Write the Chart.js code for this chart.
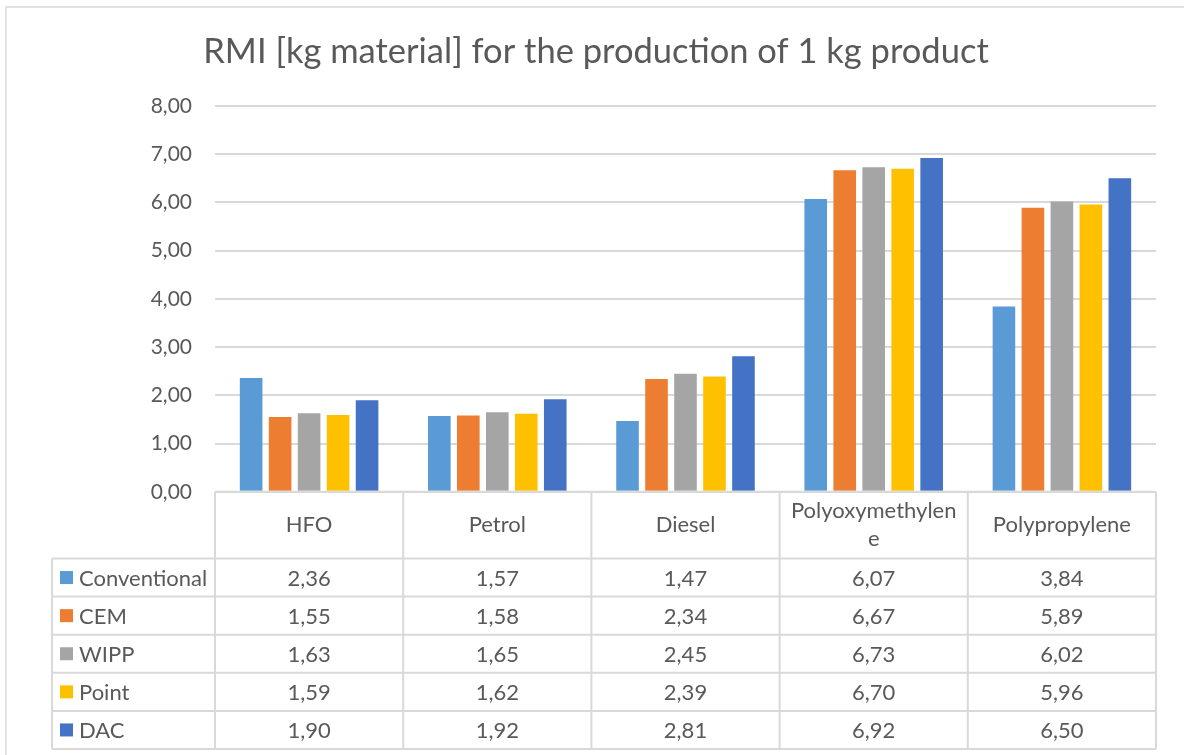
<!DOCTYPE html>
<html>
<head>
<meta charset="utf-8">
<script src="https://cdn.jsdelivr.net/npm/chart.js@4/dist/chart.umd.min.js"></script>
<style>
  html, body { margin: 0; padding: 0; background: #ffffff; }
  #wrap { width: 1184px; height: 755px; position: relative; }
</style>
</head>
<body>
<div id="wrap"><canvas id="c" width="1184" height="755"></canvas></div>
<script>
// Categories and series values (RMI, kg material per kg product)
const categories = ['HFO', 'Petrol', 'Diesel', 'Polyoxymethylene', 'Polypropylene'];
const seriesNames = ['Conventional', 'CEM', 'WIPP', 'Point', 'DAC'];
const conventional = [2.36, 1.57, 1.47, 6.07, 3.84];
const cem          = [1.55, 1.58, 2.34, 6.67, 5.89];
const wipp         = [1.63, 1.65, 2.45, 6.73, 6.02];
const point        = [1.59, 1.62, 2.39, 6.70, 5.96];
const dac          = [1.90, 1.92, 2.81, 6.92, 6.50];
const yMin = 0, yMax = 8, yStep = 1;
const titleText = 'RMI [kg material] for the production of 1 kg product';

const seriesValues = [conventional, cem, wipp, point, dac];
const seriesColors = ['#5B9BD5', '#ED7D31', '#A5A5A5', '#FFC000', '#4472C4'];

const FONT = 'Lato, "Open Sans", sans-serif';
const TEXT = '#595959';
const LINE = '#D9D9D9';

const fmt = v => v.toFixed(2).replace('.', ',');

// Data table under the plot, aligned to the category scale
const tablePlugin = {
  id: 'dataTable',
  beforeDraw(chart) {
    const ctx = chart.ctx;
    ctx.save();
    ctx.fillStyle = '#ffffff';
    ctx.fillRect(0, 0, chart.width, chart.height);
    // outer frame
    ctx.strokeStyle = LINE;
    ctx.lineWidth = 1.5;
    ctx.beginPath();
    ctx.moveTo(6, chart.height + 5);
    ctx.lineTo(6, 7);
    ctx.lineTo(chart.width + 5, 7);
    ctx.stroke();
    // title
    ctx.fillStyle = TEXT;
    ctx.font = '34.5px ' + FONT;
    ctx.textAlign = 'center';
    ctx.textBaseline = 'alphabetic';
    ctx.fillText(titleText, 596, 63);
    ctx.restore();
  },
  afterDraw(chart) {
    const ctx = chart.ctx;
    const area = chart.chartArea;
    const xs = chart.scales.x;
    const n = categories.length;
    const colW = (area.right - area.left) / n;
    const headTop = area.bottom;
    const headH = 66.7;
    const rowH = 38.1;
    const bodyTop = headTop + headH;
    const bodyBottom = bodyTop + rowH * seriesNames.length;
    const leftX = 52;

    ctx.save();
    ctx.strokeStyle = LINE;
    ctx.lineWidth = 2;
    ctx.beginPath();
    // header top
    ctx.moveTo(area.left, headTop); ctx.lineTo(area.right, headTop);
    // row lines
    for (let r = 0; r <= seriesNames.length; r++) {
      const y = bodyTop + r * rowH;
      ctx.moveTo(leftX, y); ctx.lineTo(area.right, y);
    }
    // vertical lines
    ctx.moveTo(leftX, bodyTop); ctx.lineTo(leftX, bodyBottom);
    for (let i = 0; i <= n; i++) {
      const x = area.left + i * colW;
      ctx.moveTo(x, headTop); ctx.lineTo(x, bodyBottom);
    }
    ctx.stroke();

    ctx.fillStyle = TEXT;
    ctx.font = '22px ' + FONT;
    ctx.textAlign = 'center';
    ctx.textBaseline = 'middle';
    // header labels, wrapped by character when too wide
    categories.forEach((cat, i) => {
      const cx = xs.getPixelForValue(i);
      const maxW = colW - 16;
      const lines = [];
      let cur = '';
      for (const ch of cat) {
        if (ctx.measureText(cur + ch).width > maxW && cur) { lines.push(cur); cur = ch; }
        else cur += ch;
      }
      lines.push(cur);
      const lh = 28;
      const cy = headTop + headH / 2 - (lines.length - 1) * lh / 2;
      lines.forEach((l, k) => ctx.fillText(l, cx, cy + k * lh));
    });
    // series rows
    seriesNames.forEach((name, r) => {
      const cy = bodyTop + r * rowH + rowH / 2;
      ctx.fillStyle = seriesColors[r];
      ctx.fillRect(leftX + 8, cy - 6.5, 13, 13);
      ctx.fillStyle = TEXT;
      ctx.textAlign = 'left';
      ctx.fillText(name, leftX + 27, cy + 1);
      ctx.textAlign = 'center';
      seriesValues[r].forEach((v, i) => {
        ctx.fillText(fmt(v), xs.getPixelForValue(i), cy + 1);
      });
    });
    ctx.restore();
  }
};

new Chart(document.getElementById('c'), {
  type: 'bar',
  data: {
    labels: categories,
    datasets: seriesNames.map((name, k) => ({
      label: name,
      data: seriesValues[k],
      backgroundColor: seriesColors[k],
      borderWidth: 0,
      categoryPercentage: 0.77,
      barPercentage: 0.78
    }))
  },
  options: {
    responsive: false,
    animation: false,
    devicePixelRatio: 1,
    layout: { padding: { left: 0, right: 28, top: 106, bottom: 6 + 66.7 + 38.1 * 5 } },
    plugins: {
      legend: { display: false },
      title: { display: false },
      tooltip: { enabled: false }
    },
    scales: {
      x: {
        display: false
      },
      y: {
        min: yMin, max: yMax,
        afterFit(scale) { scale.width = 215; },
        border: { display: false },
        grid: { color: LINE, lineWidth: 2, drawTicks: false },
        ticks: {
          stepSize: yStep,
          padding: 23,
          color: TEXT,
          font: { family: FONT, size: 21 },
          callback: v => fmt(v)
        }
      }
    }
  },
  plugins: [tablePlugin]
});
</script>
</body>
</html>
